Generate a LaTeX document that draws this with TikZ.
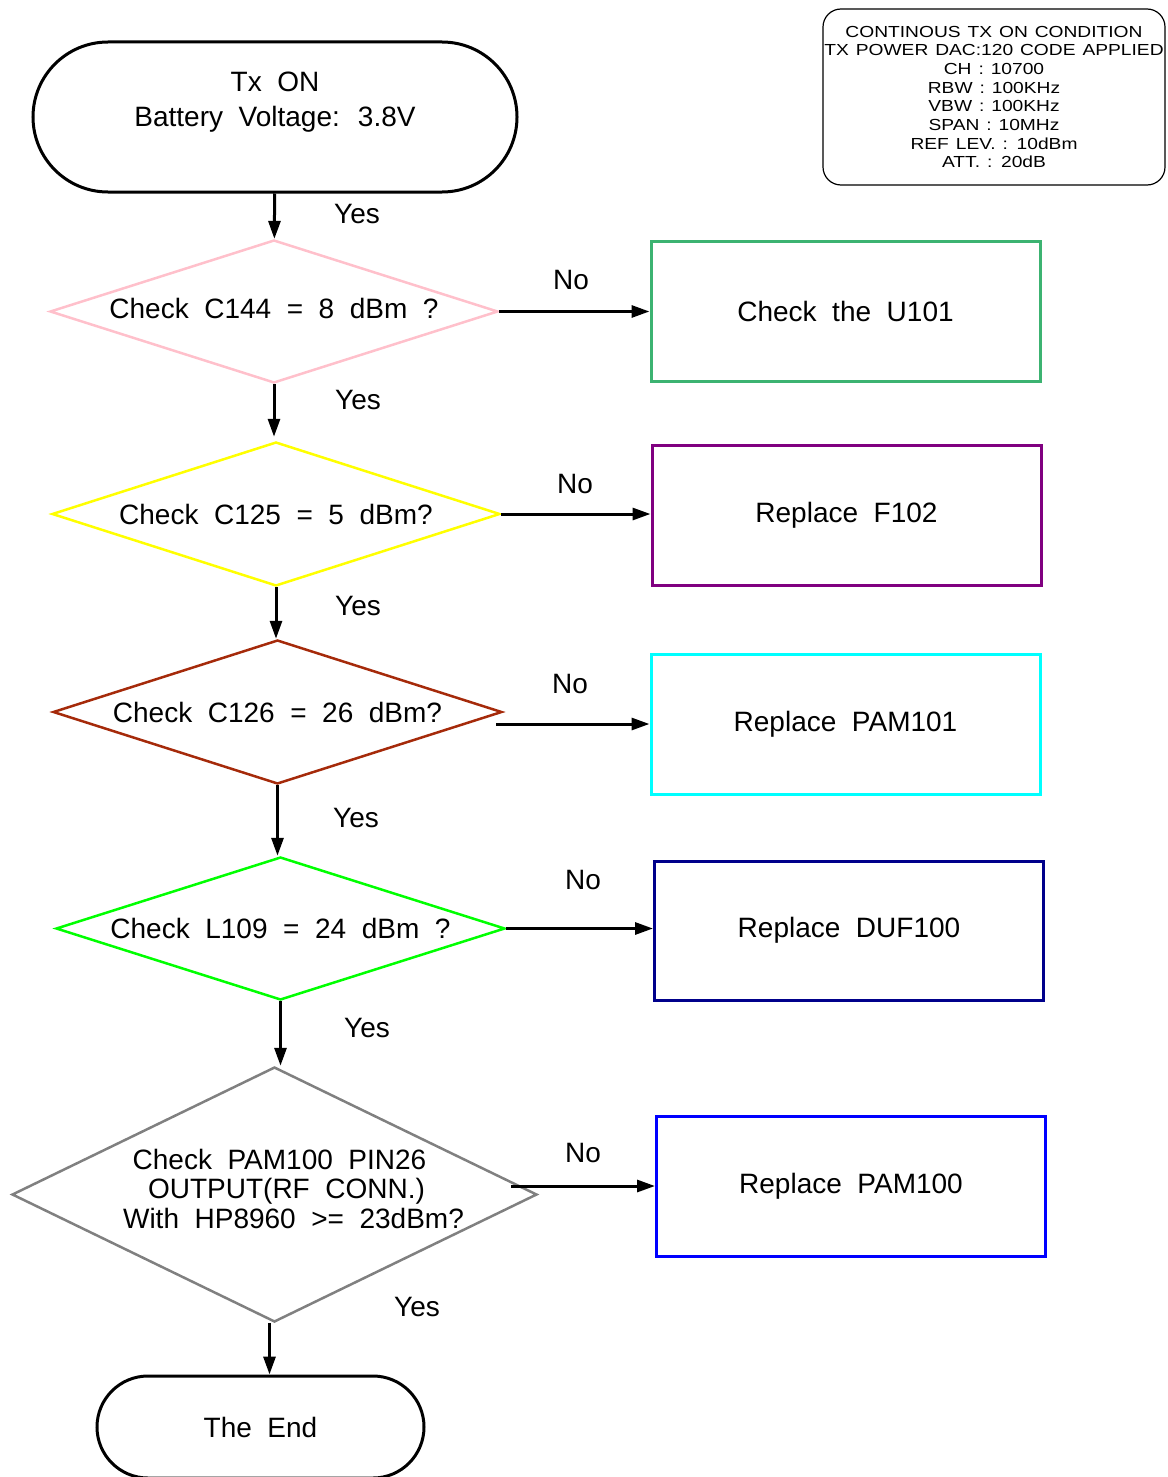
\documentclass[tikz,border=0pt]{standalone}
\usepackage{fontspec}
\setmainfont[WordSpace=2]{Liberation Sans}
\newfontfamily\infofont[FakeStretch=1.2, WordSpace=1.3]{Liberation Sans}
\usepackage{xcolor}
\usepackage{tikz}
\usetikzlibrary{shapes.geometric, arrows.meta, positioning}
\definecolor{chkpink}{RGB}{255,192,203}
\definecolor{chkyellow}{RGB}{255,255,0}
\definecolor{chkbrown}{RGB}{165,42,10}
\definecolor{chkgreen}{RGB}{0,255,0}
\definecolor{chkgrey}{RGB}{128,128,128}
\definecolor{boxgreen}{RGB}{60,179,113}
\definecolor{boxpurple}{RGB}{128,0,128}
\definecolor{boxcyan}{RGB}{0,255,255}
\definecolor{boxnavy}{RGB}{0,0,139}
\definecolor{boxblue}{RGB}{0,0,255}
\newcommand{\mainsize}{\fontsize{28}{30}\selectfont}
\newcommand{\infosize}{\infofont\fontsize{16}{18.7}\selectfont}
\tikzset{
  terminal/.style = {rectangle, draw=black, line width=3pt, align=center,
                     font=\fontsize{28}{35}\selectfont},
  decision/.style = {diamond, line width=2.5pt, inner sep=0pt, aspect=3.1,
                     align=center, font=\mainsize},
  action/.style   = {rectangle, line width=3pt, minimum width=389pt,
                     minimum height=140pt, align=center, font=\mainsize},
  infobox/.style  = {rectangle, rounded corners=18pt, draw=black, line width=1.2pt,
                     minimum width=342pt, minimum height=176pt, inner sep=0pt,
                     align=center, font=\infosize},
  arrow/.style    = {-{Triangle[length=18pt, width=12pt]}, line width=3pt, black},
  lbl/.style      = {font=\mainsize, inner sep=0pt},
}
\begin{document}
\begin{tikzpicture}[x=1pt, y=-1pt]
  \useasboundingbox (0,0) rectangle (1167,1477);

  % measuring conditions
  \node[infobox] (info) at (994,97) {CONTINOUS TX ON CONDITION\\TX POWER DAC:120 CODE APPLIED\\CH : 10700\\RBW : 100KHz\\VBW : 100KHz\\SPAN : 10MHz\\REF LEV. : 10dBm\\ATT. : 20dB};

  % checks down the left
  \node[terminal, minimum width=484pt, minimum height=150pt, rounded corners=75pt,
        text depth=35pt] (start) at (275,117) {Tx ON\\Battery Voltage: 3.8V};
  \node[decision, draw=chkpink, minimum width=448pt, minimum height=143pt, text depth=6pt] (c144) at (274,311.5) {Check C144 = 8 dBm ?};
  \node[decision, draw=chkyellow, minimum width=448pt, minimum height=144pt] (c125) at (276,514) {Check C125 = 5 dBm?};
  \node[decision, draw=chkbrown, minimum width=449pt, minimum height=144pt] (c126) at (277.5,712) {Check C126 = 26 dBm?};
  \node[decision, draw=chkgreen, minimum width=449pt, minimum height=143pt] (l109) at (280.5,928.5) {Check L109 = 24 dBm ?};
  \node[decision, draw=chkgrey, minimum width=525pt, minimum height=255pt, aspect=2.05,
        inner sep=-10pt, text depth=12pt, font=\fontsize{28}{29.5}\selectfont] (pam) at (274.5,1194.5)
        {\hspace*{10pt}Check PAM100 PIN26\\\hspace*{24pt}OUTPUT(RF CONN.)\\\hspace*{38pt}With HP8960 >= 23dBm?};
  \node[terminal, minimum width=327pt, minimum height=102pt, rounded corners=51pt] (theend) at (260.5,1427) {The End};

  % repair boxes on the right
  \node[action, draw=boxgreen]  (u101)   at (845.5,311)  {Check the U101};
  \node[action, draw=boxpurple] (f102)   at (846.5,515)  {Replace F102};
  \node[action, draw=boxcyan]   (pam101) at (845.5,724)  {Replace PAM101};
  \node[action, draw=boxnavy, minimum height=139pt] (duf100) at (849,930.5) {Replace DUF100};
  \node[action, draw=boxblue]   (pam100) at (851,1186)   {Replace PAM100};

  % yes path
  \draw[arrow] (start) -- (c144);
  \draw[arrow] (c144.south) -- ([yshift=4pt]c144.south |- c125.north);
  \draw[arrow] (c125.south) -- (c125.south |- c126.north);
  \draw[arrow] (c126.south) -- (c126.south |- l109.north);
  \draw[arrow] (l109.south) -- (l109.south |- pam.north);
  \draw[arrow] ([xshift=-5pt]pam.south) -- ([xshift=-5pt]pam.south |- theend.north);

  % no path
  \draw[arrow] (c144.east) -- (c144.east -| u101.west);
  \draw[arrow] (c125.east) -- (c125.east -| f102.west);
  \draw[arrow] ([xshift=-7pt]c126.east |- pam101.west) -- (pam101.west);
  \draw[arrow] (l109.east) -- (l109.east -| duf100.west);
  \draw[arrow] ([xshift=-27pt]pam.east |- pam100.west) -- (pam100.west);

  \node[lbl] (yes1) at (357,214)  {Yes};
  \node[lbl] (yes2) at (358,400)  {Yes};
  \node[lbl] (yes3) at (358,606)  {Yes};
  \node[lbl] (yes4) at (356,818)  {Yes};
  \node[lbl] (yes5) at (367,1028) {Yes};
  \node[lbl] (yes6) at (417,1307) {Yes};
  \node[lbl] (no1)  at (571,280)  {No};
  \node[lbl] (no2)  at (575,484)  {No};
  \node[lbl] (no3)  at (570,684)  {No};
  \node[lbl] (no4)  at (583,880)  {No};
  \node[lbl] (no5)  at (583,1153) {No};
\end{tikzpicture}
\end{document}
